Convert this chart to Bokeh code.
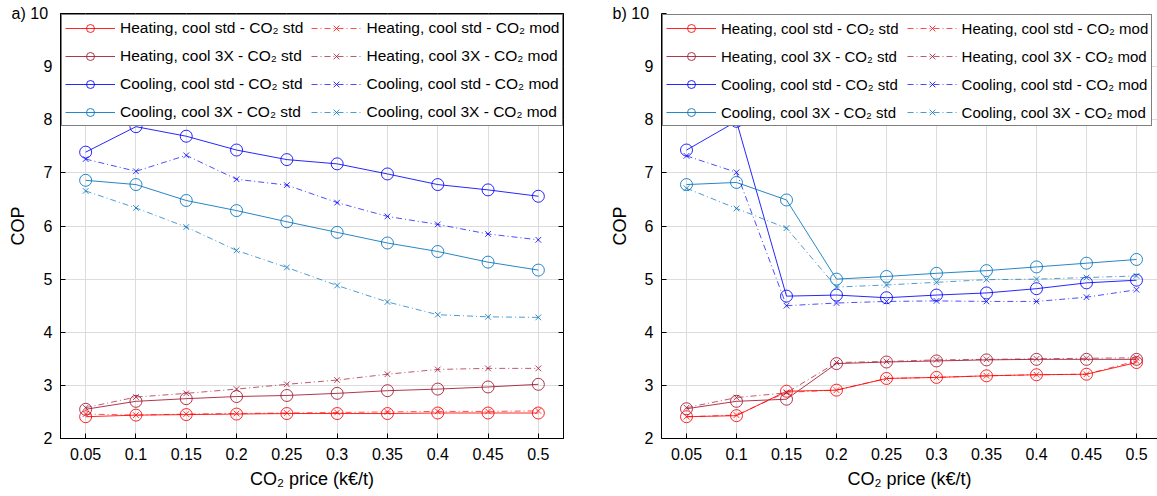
from bokeh.plotting import figure
from bokeh.models import Legend, LegendItem, FixedTicker, LinearAxis
from bokeh.layouts import row
from bokeh.embed import file_html
from bokeh.resources import INLINE

# ---------------- data ----------------
co2_price = [0.05, 0.1, 0.15, 0.2, 0.25, 0.3, 0.35, 0.4, 0.45, 0.5]
x_tick_labels = ["0.05", "0.1", "0.15", "0.2", "0.25", "0.3", "0.35", "0.4", "0.45", "0.5"]
y_ticks = [2, 3, 4, 5, 6, 7, 8, 9, 10]

series_labels = [
    "Heating, cool std - CO₂ std",
    "Heating, cool 3X - CO₂ std",
    "Cooling, cool std - CO₂ std",
    "Cooling, cool 3X - CO₂ std",
    "Heating, cool std - CO₂ mod",
    "Heating, cool 3X - CO₂ mod",
    "Cooling, cool std - CO₂ mod",
    "Cooling, cool 3X - CO₂ mod",
]

# panel a)
a_heat_std_std = [2.41, 2.44, 2.45, 2.46, 2.47, 2.47, 2.47, 2.48, 2.48, 2.48]
a_heat_3x_std = [2.55, 2.70, 2.75, 2.79, 2.81, 2.85, 2.90, 2.93, 2.97, 3.02]
a_cool_std_std = [7.39, 7.87, 7.69, 7.43, 7.25, 7.17, 6.98, 6.78, 6.68, 6.56]
a_cool_3x_std = [6.86, 6.78, 6.48, 6.29, 6.08, 5.88, 5.68, 5.52, 5.32, 5.17]
a_heat_std_mod = [2.46, 2.44, 2.46, 2.47, 2.48, 2.49, 2.50, 2.51, 2.51, 2.52]
a_heat_3x_mod = [2.58, 2.78, 2.85, 2.93, 3.02, 3.10, 3.21, 3.30, 3.32, 3.32]
a_cool_std_mod = [7.26, 7.03, 7.33, 6.88, 6.77, 6.44, 6.18, 6.03, 5.85, 5.74]
a_cool_3x_mod = [6.66, 6.34, 5.98, 5.54, 5.22, 4.88, 4.57, 4.33, 4.29, 4.28]

# panel b)
b_heat_std_std = [2.41, 2.43, 2.89, 2.91, 3.13, 3.15, 3.18, 3.20, 3.21, 3.43]
b_heat_3x_std = [2.56, 2.70, 2.74, 3.41, 3.44, 3.46, 3.48, 3.49, 3.49, 3.49]
b_cool_std_std = [7.43, 7.97, 4.68, 4.70, 4.65, 4.70, 4.74, 4.82, 4.93, 4.98]
b_cool_3x_std = [6.78, 6.82, 6.49, 5.00, 5.05, 5.11, 5.16, 5.23, 5.30, 5.37]
b_heat_std_mod = [2.41, 2.44, 2.87, 2.91, 3.13, 3.15, 3.18, 3.20, 3.21, 3.46]
b_heat_3x_mod = [2.58, 2.77, 2.86, 3.43, 3.45, 3.48, 3.49, 3.50, 3.51, 3.52]
b_cool_std_mod = [7.32, 7.01, 4.50, 4.55, 4.58, 4.59, 4.58, 4.58, 4.66, 4.80]
b_cool_3x_mod = [6.71, 6.33, 5.96, 4.85, 4.89, 4.94, 4.99, 5.00, 5.03, 5.06]

colors = ["#ff0000", "#a2142f", "#0000ff", "#0072bd"]

FONT = "Liberation Sans"


def make_panel(series, tag, width, border_left, border_right, x_end, outline,
               label_standoff, right_ticks, legend_font_size):
    p = figure(width=width, height=496, x_range=(0.025, x_end), y_range=(2, 10),
               output_backend="svg", toolbar_location=None,
               min_border_left=border_left, min_border_right=border_right,
               min_border_top=13, min_border_bottom=58)
    p.outline_line_color = "black" if outline else None
    p.background_fill_color = "white"
    p.border_fill_color = "white"

    p.xaxis.ticker = FixedTicker(ticks=co2_price)
    p.xaxis.major_label_overrides = {v: s for v, s in zip(co2_price, x_tick_labels)}
    p.yaxis.ticker = FixedTicker(ticks=y_ticks)
    # panel tag sits left of the top tick label, as in the original figure
    p.yaxis.major_label_overrides = {10: tag + "  10"}
    for ax in (p.xaxis, p.yaxis):
        ax.axis_line_color = "black"
        ax.major_tick_line_color = "black"
        ax.major_tick_in = 5
        ax.major_tick_out = 0
        ax.minor_tick_line_color = None
        ax.major_label_text_font = FONT
        ax.major_label_text_font_size = "16px"
        ax.major_label_text_color = "black"
        ax.axis_label_text_font = FONT
        ax.axis_label_text_font_size = "18px"
        ax.axis_label_text_font_style = "normal"
        ax.axis_label_text_color = "black"
    p.xaxis.major_label_standoff = 9
    p.xaxis.axis_label_standoff = 6
    p.yaxis.major_label_standoff = 8
    p.yaxis.axis_label_standoff = label_standoff
    p.xaxis.axis_label = "CO₂ price (k€/t)"
    p.yaxis.axis_label = "COP"

    if right_ticks:
        rax = LinearAxis(ticker=FixedTicker(ticks=y_ticks),
                         major_label_overrides={t: "" for t in y_ticks},
                         axis_line_color=None, major_tick_line_color="black",
                         major_tick_in=5, major_tick_out=0,
                         minor_tick_line_color=None, major_label_standoff=0)
        p.add_layout(rax, "right")

    p.grid.grid_line_color = "#dcdcdc"
    p.grid.grid_line_width = 1

    std_items = []
    mod_items = []
    for i in range(4):
        c = colors[i]
        ys = series[i]
        l1 = p.line(co2_price, ys, line_color=c, line_width=1, line_alpha=0.85)
        m1 = p.scatter(co2_price, ys, marker="circle", size=12, fill_color=None,
                       line_color=c, line_width=1, line_alpha=0.85)
        std_items.append(LegendItem(label=series_labels[i], renderers=[l1, m1]))
    for i in range(4):
        c = colors[i]
        ys = series[4 + i]
        l2 = p.line(co2_price, ys, line_color=c, line_width=1, line_alpha=0.7,
                    line_dash="6 3 1 3")
        m2 = p.scatter(co2_price, ys, marker="x", size=8,
                       line_color=c, line_width=1, line_alpha=0.8)
        mod_items.append(LegendItem(label=series_labels[4 + i], renderers=[l2, m2]))

    legend = Legend(items=std_items + mod_items, ncols=2, location="top_left",
                    label_text_font=FONT, label_text_font_size=legend_font_size,
                    label_text_color="black",
                    glyph_width=50, glyph_height=20, label_height=20,
                    label_standoff=5, spacing=8, padding=3, margin=1,
                    border_line_color="black", border_line_width=1,
                    background_fill_color="white", background_fill_alpha=1)
    p.add_layout(legend)
    return p


series_a = [a_heat_std_std, a_heat_3x_std, a_cool_std_std, a_cool_3x_std,
            a_heat_std_mod, a_heat_3x_mod, a_cool_std_mod, a_cool_3x_mod]
series_b = [b_heat_std_std, b_heat_3x_std, b_cool_std_std, b_cool_3x_std,
            b_heat_std_mod, b_heat_3x_mod, b_cool_std_mod, b_cool_3x_mod]

pa = make_panel(series_a, "a)", 580, 60, 17, 0.525, True, -19, True, "15.5px")
pb = make_panel(series_b, "b)", 577, 81, 0, 0.521, False, -20, False, "15px")

layout = row(pa, pb)
open("out.html", "w").write(file_html(layout, INLINE))
